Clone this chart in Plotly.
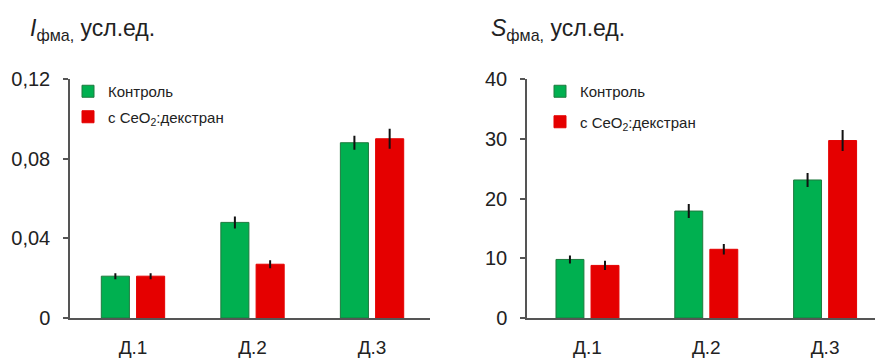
import plotly.graph_objects as go

W, H = 875, 358

categories = ["Д.1", "Д.2", "Д.3"]
series_names = ["Контроль", "с CeO<sub>2</sub>:декстран"]

i_control = [0.021, 0.048, 0.088]
i_control_err = [0.001, 0.0025, 0.003]
i_ceo2 = [0.021, 0.027, 0.090]
i_ceo2_err = [0.001, 0.0015, 0.0045]

s_control = [9.8, 17.9, 23.1]
s_control_err = [0.5, 1.0, 1.0]
s_ceo2 = [8.8, 11.5, 29.7]
s_ceo2_err = [0.6, 0.7, 1.6]

i_ticks = [0, 0.04, 0.08, 0.12]
i_ticktext = ["0", "0,04", "0,08", "0,12"]
s_ticks = [0, 10, 20, 30, 40]
s_ticktext = ["0", "10", "20", "30", "40"]

GREEN = "#00B050"
GREEN_EDGE = "#1E7A3E"
RED = "#E50000"
TXT = "#222222"
AXC = "#555555"
FONT = "Liberation Sans, Arial, sans-serif"

fig = go.Figure()

def add_bars(x, y, err, name, color, edge, xa, ya, legend, offset, show):
    fig.add_trace(go.Bar(
        x=x, y=y, name=name, xaxis=xa, yaxis=ya,
        marker=dict(color=color, line=dict(color=edge, width=1)),
        error_y=dict(type="data", array=err, color="#111111", thickness=2, width=1),
        width=0.235, offset=offset, legend=legend, showlegend=show,
        legendgroup=name + legend,
    ))

add_bars(categories, i_control, i_control_err, series_names[0], GREEN, GREEN_EDGE, "x", "y", "legend", -0.265, True)
add_bars(categories, i_ceo2, i_ceo2_err, series_names[1], RED, RED, "x", "y", "legend", 0.03, True)
add_bars(categories, s_control, s_control_err, series_names[0], GREEN, GREEN_EDGE, "x2", "y2", "legend2", -0.265, True)
add_bars(categories, s_ceo2, s_ceo2_err, series_names[1], RED, RED, "x2", "y2", "legend2", 0.03, True)

ydom = [(H - 318) / H, (H - 79) / H]

common_x = dict(type="category", showline=True, linecolor=AXC, linewidth=1.5,
                ticks="", showgrid=False, zeroline=False, automargin=False,
                tickfont=dict(family=FONT, size=19, color=TXT), ticklabelstandoff=11)
common_y = dict(showline=True, linecolor=AXC, linewidth=1.5, ticks="outside",
                ticklen=5, tickcolor=AXC, tickwidth=1.5, showgrid=False, zeroline=False,
                automargin=False,
                tickfont=dict(family=FONT, size=20, color=TXT), ticklabelstandoff=9)

legend_font = dict(family=FONT, size=15, color=TXT)

fig.update_layout(
    width=W, height=H,
    margin=dict(l=0, r=0, t=0, b=0, pad=0, autoexpand=False),
    paper_bgcolor="white", plot_bgcolor="white",
    barmode="overlay",
    xaxis=dict(domain=[70 / W, 430 / W], range=[-0.527, 2.485], anchor="y", **common_x),
    yaxis=dict(domain=ydom, range=[0, 0.12], tickvals=i_ticks, ticktext=i_ticktext,
               anchor="x", **common_y),
    xaxis2=dict(domain=[527 / W, 1.0], range=[-0.509, 2.42], anchor="y2", **common_x),
    yaxis2=dict(domain=ydom, range=[0, 40], tickvals=s_ticks, ticktext=s_ticktext,
                anchor="x2", **common_y),
    legend=dict(x=68 / W, y=(H - 75) / H, xanchor="left", yanchor="top",
                font=legend_font, bgcolor="rgba(0,0,0,0)",
                itemwidth=30, tracegroupgap=3),
    legend2=dict(x=540 / W, y=(H - 75) / H, xanchor="left", yanchor="top",
                 font=legend_font, bgcolor="rgba(0,0,0,0)",
                 itemwidth=30, tracegroupgap=8),
    annotations=[
        dict(text="<i>I</i><sub>фма,</sub> усл.ед.", x=28 / W, y=(H - 30) / H,
             xref="paper", yref="paper", xanchor="left", yanchor="middle", showarrow=False,
             font=dict(family=FONT, size=23, color=TXT)),
        dict(text="<i>S</i><sub>фма,</sub> усл.ед.", x=489 / W, y=(H - 30) / H,
             xref="paper", yref="paper", xanchor="left", yanchor="middle", showarrow=False,
             font=dict(family=FONT, size=23, color=TXT)),
    ],
)

fig.write_html("out.html", config={"displayModeBar": False},
               post_script="document.body.style.margin='0';")
